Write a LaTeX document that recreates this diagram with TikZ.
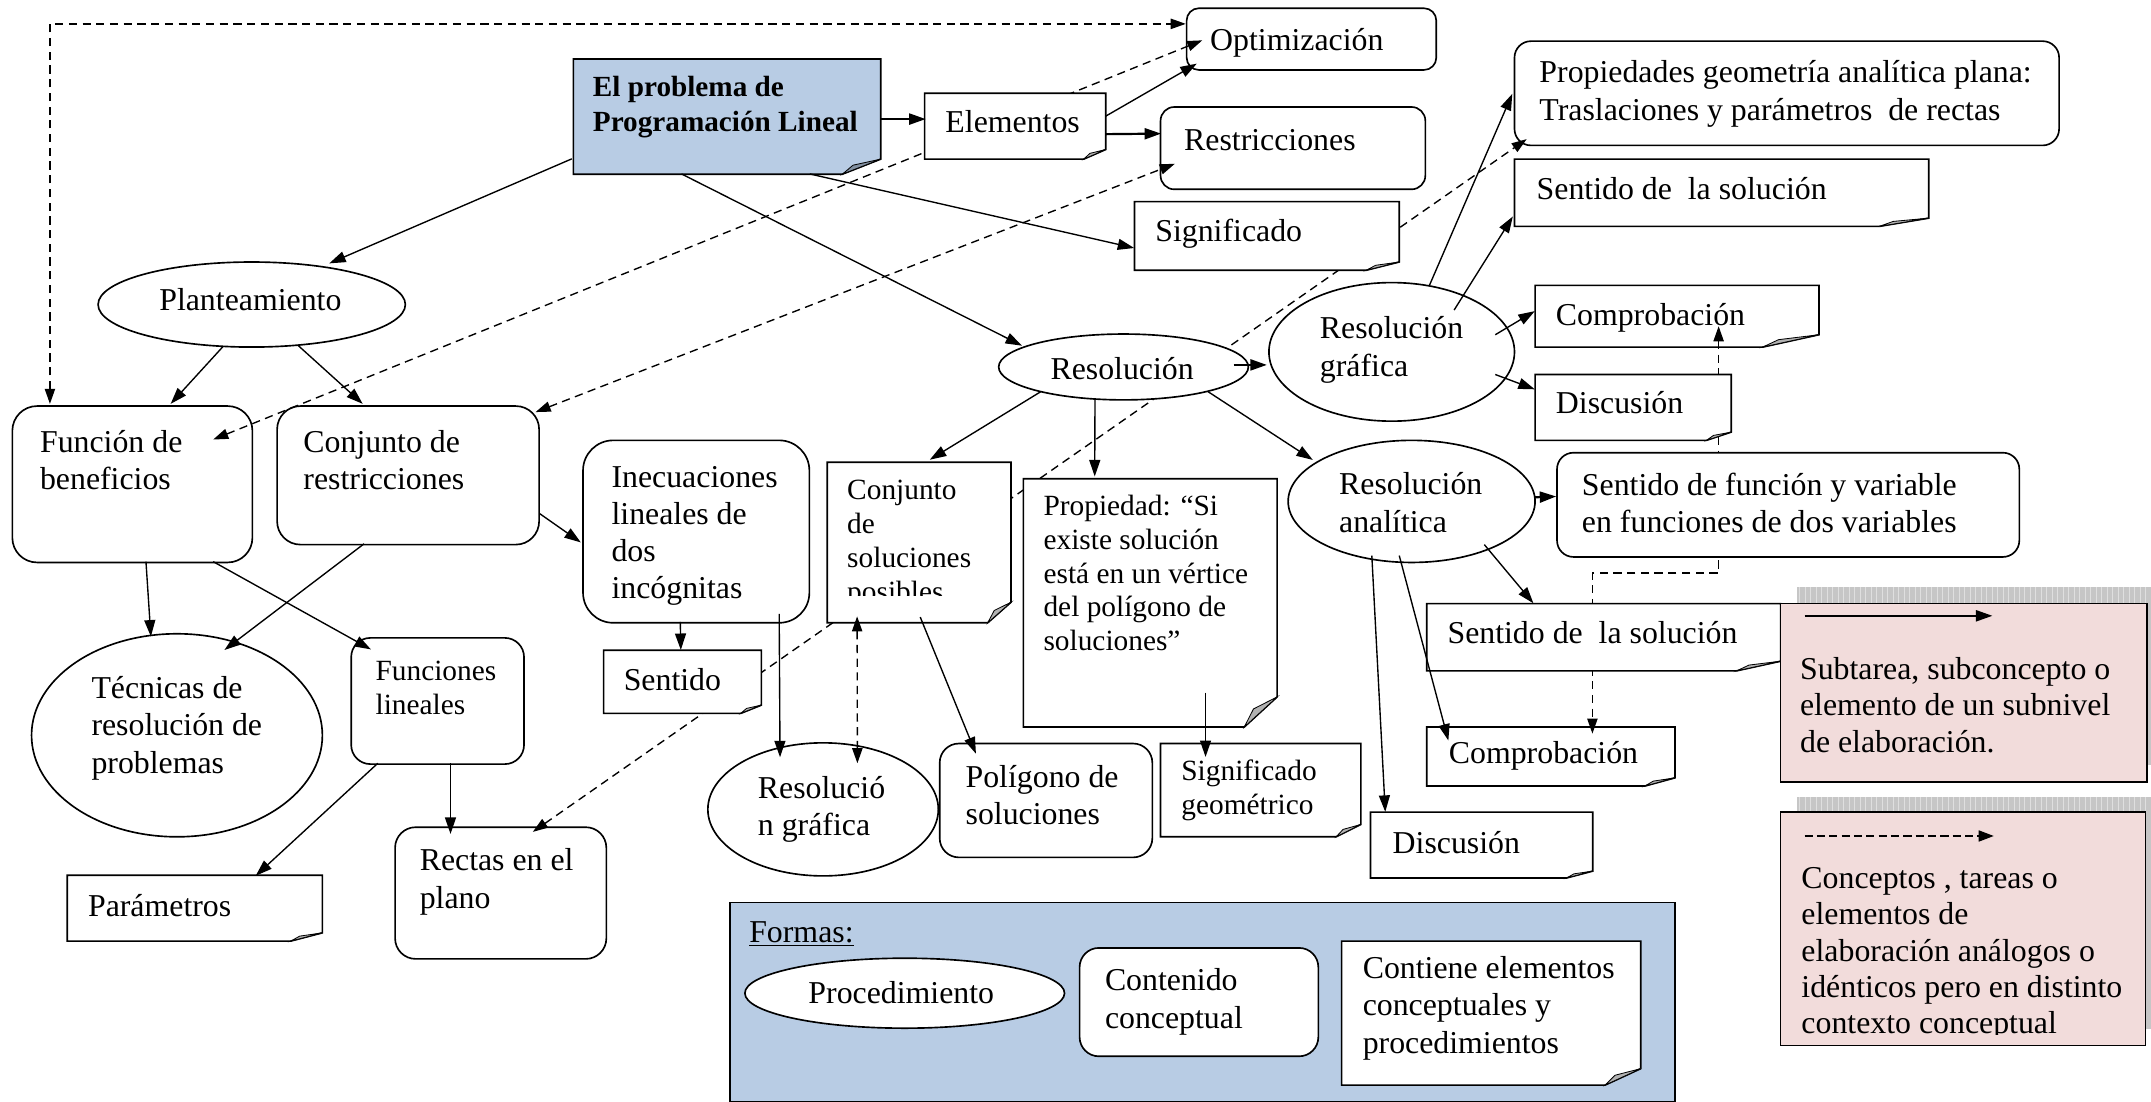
\documentclass[tikz,border=0pt]{standalone}
\usepackage{fontspec}
\setmainfont{Liberation Serif}
\usetikzlibrary{arrows.meta,shapes.geometric,fit,calc}
\definecolor{plblue}{HTML}{B8CCE4}
\definecolor{legpink}{HTML}{F2DCDB}
\newcommand\tstrut{\rule{0pt}{20pt}}
\tikzset{
 boxline/.style={draw=black, line width=1.2pt},
 foldline/.style={draw=black, line width=0.6pt},
 rbox/.style={boxline, fill=white, inner sep=0pt},
 ell/.style={ellipse, boxline, fill=white, inner sep=0pt},
 txt/.style={anchor=north west, inner sep=0pt, align=left, font=\fontsize{23.2}{27.2}\selectfont},
 ltxt/.style={anchor=north west, inner sep=0pt, align=left, font=\fontsize{23.2}{26.5}\selectfont},
 stxt/.style={anchor=north west, inner sep=0pt, align=left, font=\fontsize{21.4}{24.7}\selectfont},
 btxt/.style={anchor=north west, inner sep=0pt, align=left, font=\fontsize{21.3}{24.8}\selectfont\bfseries},
 ctxt/.style={anchor=base, inner sep=0pt, font=\fontsize{23.2}{27.2}\selectfont},
 arr/.style={-{Triangle[length=12pt,width=8pt]}, line width=1pt},
 tarr/.style={-{Triangle[length=12pt,width=8pt]}, line width=1.6pt},
 darr/.style={{Triangle[length=11pt,width=7.5pt]}-{Triangle[length=11pt,width=7.5pt]}, line width=1pt, dash pattern=on 6pt off 4pt},
 dsing/.style={-{Triangle[length=11pt,width=8pt]}, line width=1.3pt, dash pattern=on 6pt off 3pt},
}
\newcommand\notebox[8][white]{%
  \filldraw[boxline, fill=#1] (#3,#4) -- (#5,#4) -- (#5,{#6-#8}) -- ({#5-#7},#6) -- (#3,#6) -- cycle;
  \filldraw[foldline, fill=#1!70!black] (#5,{#6-#8}) -- ({#5-#7},#6) -- ({#5-0.72*#7},{#6-0.6*#8}) -- cycle;
  \node[fit={(#3,#4)(#5,#6)}, inner sep=0pt] (#2) {};
}
\begin{document}
\begin{tikzpicture}[x=1pt,y=-1pt]
\useasboundingbox (0,0) rectangle (1568,803);

% ---------- group A shapes
\notebox[plblue]{pl}{418}{43}{642}{127}{28}{11}
\node[btxt] (plT) at (432,50.5) {\tstrut El problema de\\Programación Lineal};
\node[rbox, rounded corners=9pt, fit={(865,6)(1047,51)}] (opt) {};
\node[txt] (optT) at (882,16.5) {\tstrut Optimización};
\node[rbox, rounded corners=10pt, fit={(846,78)(1039,138)}] (restr) {};
\node[txt] (restrT) at (863,89.3) {\tstrut Restricciones};
\node[rbox, rounded corners=12pt, fit={(1104,30)(1501,106)}] (propg) {};
\node[txt] (propgT) at (1122,40.3) {\tstrut Propiedades geometría analítica plana:\\Traslaciones y parámetros\ \ de rectas};
\notebox{sent1}{1104}{116}{1406}{165}{36}{6}
\node[txt] (sent1T) at (1120,125.3) {\tstrut Sentido de\ \ la solución};
\node[ell, minimum width=224pt, minimum height=62pt] (plan) at (183.5,222) {};
\node[ctxt] (planT) at (182.5,226.5) {Planteamiento};
\node[ell, minimum width=179pt, minimum height=101pt] (rg1) at (1014.5,256.5) {};
\node[txt] (rg1T) at (962,226.7) {\tstrut Resolución\\gráfica};
\notebox{comp1}{1119}{208}{1326}{253}{41}{9}
\node[txt] (comp1T) at (1134,217) {\tstrut Comprobación};
\node[ell, minimum width=180pt, minimum height=89pt] (ra) at (1029,365.5) {};
\node[txt] (raT) at (976,340.5) {\tstrut Resolución\\analítica};
\notebox{comp2}{1040}{530}{1221}{573}{22}{6}
\node[txt] (comp2T) at (1056,536.5) {\tstrut Comprobación};
\notebox{disc2}{999}{592}{1161}{640}{19}{5}
\node[txt] (disc2T) at (1015,602) {\tstrut Discusión};
\node[rbox, rounded corners=18pt, fit={(9,296)(184,410)}] (fb) {};
\node[txt] (fbT) at (29,309.3) {\tstrut Función de\\beneficios};
\node[rbox, rounded corners=17pt, fit={(202,296)(393,397)}] (cr) {};
\node[txt] (crT) at (221,309.3) {\tstrut Conjunto de\\restricciones};
\node[rbox, rounded corners=22pt, fit={(425,321)(590,454)}] (ine) {};
\node[txt] (ineT) at (445.6,334.8) {\tstrut Inecuaciones\\lineales de\\dos\\incógnitas};
\node[ell, minimum width=212pt, minimum height=148pt] (tec) at (129,536) {};
\node[txt] (tecT) at (66.5,489) {\tstrut Técnicas de\\resolución de\\problemas};
\node[rbox, rounded corners=14pt, fit={(256,465)(382,557)}] (fl) {};
\node[stxt] (flT) at (273.6,475.7) {\tstrut Funciones\\lineales};
\node[ell, minimum width=168pt, minimum height=97pt] (rg2) at (600,590) {};
\node[txt] (rg2T) at (552.3,562) {\tstrut Resolució\\n gráfica};
\node[rbox, rounded corners=14pt, fit={(685,542)(840,625)}] (pol) {};
\node[txt] (polT) at (703.7,553.5) {\tstrut Polígono de\\soluciones};
\notebox{sg}{846}{542}{992}{610}{18}{9}
\node[stxt] (sgT) at (861,548.6) {\tstrut Significado\\geométrico};
\node[rbox, rounded corners=15pt, fit={(288,603)(442,699)}] (rect) {};
\node[txt] (rectT) at (305.8,614.7) {\tstrut Rectas en el\\plano};
\notebox{param}{49}{638}{235}{686}{23}{6}
\node[txt] (paramT) at (64,648.2) {\tstrut Parámetros};
% Formas legend
\node[fit={(532,658)(1221,803)}, inner sep=0pt, boxline, fill=plblue] (formas) {};
\node[txt] (formasT) at (546,667) {\tstrut\underline{Formas:}};
\node[ell, minimum width=233pt, minimum height=51pt] (proc) at (659.5,724) {};
\node[ctxt] (procT) at (657,731.8) {Procedimiento};
\node[rbox, rounded corners=14pt, fit={(787,691)(961,770)}] (cc) {};
\node[txt] (ccT) at (805.3,702) {\tstrut Contenido\\conceptual};
\notebox{cont}{978}{686}{1196}{791}{26}{12}
\node[txt] (contT) at (993.2,693) {\tstrut Contiene elementos\\conceptuales y\\procedimientos};

% ---------- dashed connectors (behind group B)
\draw[darr] ($(fb.north west)+(147,25)$) -- ($(opt.north west)+(12,24)$);
\draw[darr] ($(cr.north west)+(189,5)$) -- ($(restr.north west)+(11,42)$);
\draw[darr] ($(rect.north west)+(101,4)$) -- ($(propg.north west)+(9.5,72)$);
\draw[darr] ($(fb.north west)+(28,-1)$) |- ($(opt.north west)+(0,12)$);
\draw[darr] ($(comp1.north west)+(134,30)$) -- ++(0,180) -| ($(comp2.north west)+(121,5)$);

% ---------- group B shapes
\notebox{elem}{674}{68}{806}{116}{16}{7}
\node[txt] (elemT) at (689,76.7) {\tstrut Elementos};
\notebox{sig}{827}{147}{1020}{197}{24}{6}
\node[txt] (sigT) at (842,156.2) {\tstrut Significado};
\node[ell, minimum width=182pt, minimum height=48pt] (res) at (819,267.5) {};
\node[ctxt] (resT) at (818,277) {Resolución};
\notebox{disc1}{1119}{273}{1262}{321}{18}{6}
\node[txt] (disc1T) at (1134,281.3) {\tstrut Discusión};
\node[rbox, rounded corners=12pt, fit={(1135,330)(1472,406)}] (sfv) {};
\node[txt] (sfvT) at (1153,341) {\tstrut Sentido de función y variable\\en funciones de dos variables};
\notebox{sent2}{1040}{440}{1298}{489}{32}{7}
\node[txt] (sent2T) at (1055,449) {\tstrut Sentido de\ \ la solución};
\notebox{sentido}{440}{474}{555}{520}{15}{6}
\node[txt] (sentidoT) at (454.5,483) {\tstrut Sentido};
\notebox{cs}{603}{337}{737}{454}{17}{15}
\begin{scope}
\clip (603,337) rectangle (737,434);
\node[stxt] (csT) at (617.4,344) {\tstrut Conjunto\\de\\soluciones\\posibles};
\end{scope}
\notebox{prop}{746}{349}{931}{530}{24}{22}
\node[stxt] (propT) at (760.5,355.4) {\tstrut Propiedad: “Si\\existe solución\\está en un vértice\\del polígono de\\soluciones”};

\draw[darr] ($(cs.north west)+(22,112.5)$) -- ($(rg2.center)+(25,-33.6)$);

% ---------- solid connectors
\draw[tarr] ($(pl.north west)+(224,44)$) -- ($(elem.north west)+(1,19)$);
\draw[tarr] ($(elem.north west)+(132,30)$) -- ($(restr.north west)+(1,20)$);
\draw[arr] ($(elem.north west)+(132,17)$) -- ($(opt.north west)+(8,41)$);
\draw[arr] ($(pl.north west)+(-1,73)$) -- ($(plan.center)+(56.5,-30)$);
\draw[arr] ($(pl.north west)+(79,84)$) -- ($(res.center)+(-74,-15.5)$);
\draw[arr] ($(pl.north west)+(172.5,84)$) -- ($(sig.north west)+(0,34)$);
\draw[arr] ($(plan.center)+(-21,30.7)$) -- ($(fb.north west)+(116,-1)$);
\draw[arr] ($(plan.center)+(34,30)$) -- ($(cr.north west)+(63,-1)$);
\draw[arr] ($(cr.north west)+(192,79)$) -- ($(ine.north west)+(-1,75)$);
\draw[arr] ($(fb.north west)+(98,114)$) -- ($(tec.center)+(-19,-72)$);
\draw[arr] ($(fb.north west)+(147,114)$) -- ($(fl.north west)+(15,9)$);
\draw[arr] ($(cr.north west)+(64,101)$) -- ($(tec.center)+(34.6,-62.2)$);
\draw[arr] ($(ine.north west)+(71.5,133)$) -- ($(sentido.north west)+(56.5,0)$);
\draw[arr] ($(ine.north west)+(143.6,127)$) -- ($(rg2.center)+(-31.4,-38)$);
\draw[arr] ($(fl.north west)+(73,92)$) -- ($(rect.north west)+(41,5.5)$);
\draw[arr] ($(fl.north west)+(20,92)$) -- ($(param.north west)+(137.6,0.6)$);
\draw[arr] ($(res.center)+(-60.3,18)$) -- ($(cs.north west)+(75,-1.7)$);
\draw[arr] ($(res.center)+(-20.8,24)$) -- ($(prop.north west)+(52.2,-1.5)$);
\draw[arr] ($(res.center)+(61.6,18)$) -- ($(ra.center)+(-72,-30.2)$);
\draw[tarr] ($(res.center)+(80.3,-1.5)$) -- ($(rg1.center)+(-91,9.5)$);
\draw[arr] ($(cs.north west)+(68,113)$) -- ($(pol.north west)+(27,8)$);
\draw[arr] ($(prop.north west)+(133,156)$) -- ($(sg.north west)+(33,10)$);
\draw[arr] ($(rg1.center)+(27.5,-48.5)$) -- ($(propg.north west)+(-1,39)$);
\draw[arr] ($(rg1.center)+(45.5,-30.5)$) -- ($(sent1.north west)+(-1,42)$);
\draw[arr] ($(rg1.center)+(75.5,-12.5)$) -- ($(comp1.north west)+(0,19)$);
\draw[arr] ($(rg1.center)+(75.5,16.5)$) -- ($(disc1.north west)+(0,11)$);
\draw[tarr] ($(ra.center)+(90,-3)$) -- ($(sfv.north west)+(0,32.5)$);
\draw[arr] ($(ra.center)+(53,31.5)$) -- ($(sent2.north west)+(78,0)$);
\draw[arr] ($(ra.center)+(-9,39.5)$) -- ($(comp2.north west)+(16,10)$);
\draw[arr] ($(ra.center)+(-29,39.5)$) -- ($(disc2.north west)+(11,0)$);

% ---------- legend boxes
\fill[gray!45] (1310,428) rectangle (1568,558);
\draw[white!75!gray, line width=0.5pt, step=4] (1310,428) grid (1568,558);
\node[fit={(1298,440)(1565,570)}, inner sep=0pt, boxline, fill=legpink] (leg1) {};
\draw[tarr] ($(leg1.north west)+(18,9.5)$) -- ($(leg1.north west)+(155,9.5)$);
\node[ltxt] (leg1T) at (1312,475) {\tstrut Subtarea, subconcepto o\\elemento de un subnivel\\de elaboración.};

\fill[gray!45] (1310,581) rectangle (1568,750);
\draw[white!75!gray, line width=0.5pt, step=4] (1310,581) grid (1568,750);
\node[fit={(1298,592)(1564,762)}, inner sep=0pt, boxline, fill=legpink] (leg2) {};
\draw[dsing] ($(leg2.north west)+(18,18)$) -- ($(leg2.north west)+(156,18)$);
\begin{scope}
\clip (1298,592) rectangle (1564,754);
\node[ltxt] (leg2T) at (1313,627.5) {\tstrut Conceptos , tareas o\\elementos de\\elaboración análogos o\\idénticos pero en distinto\\contexto conceptual};
\end{scope}
\end{tikzpicture}
\end{document}
